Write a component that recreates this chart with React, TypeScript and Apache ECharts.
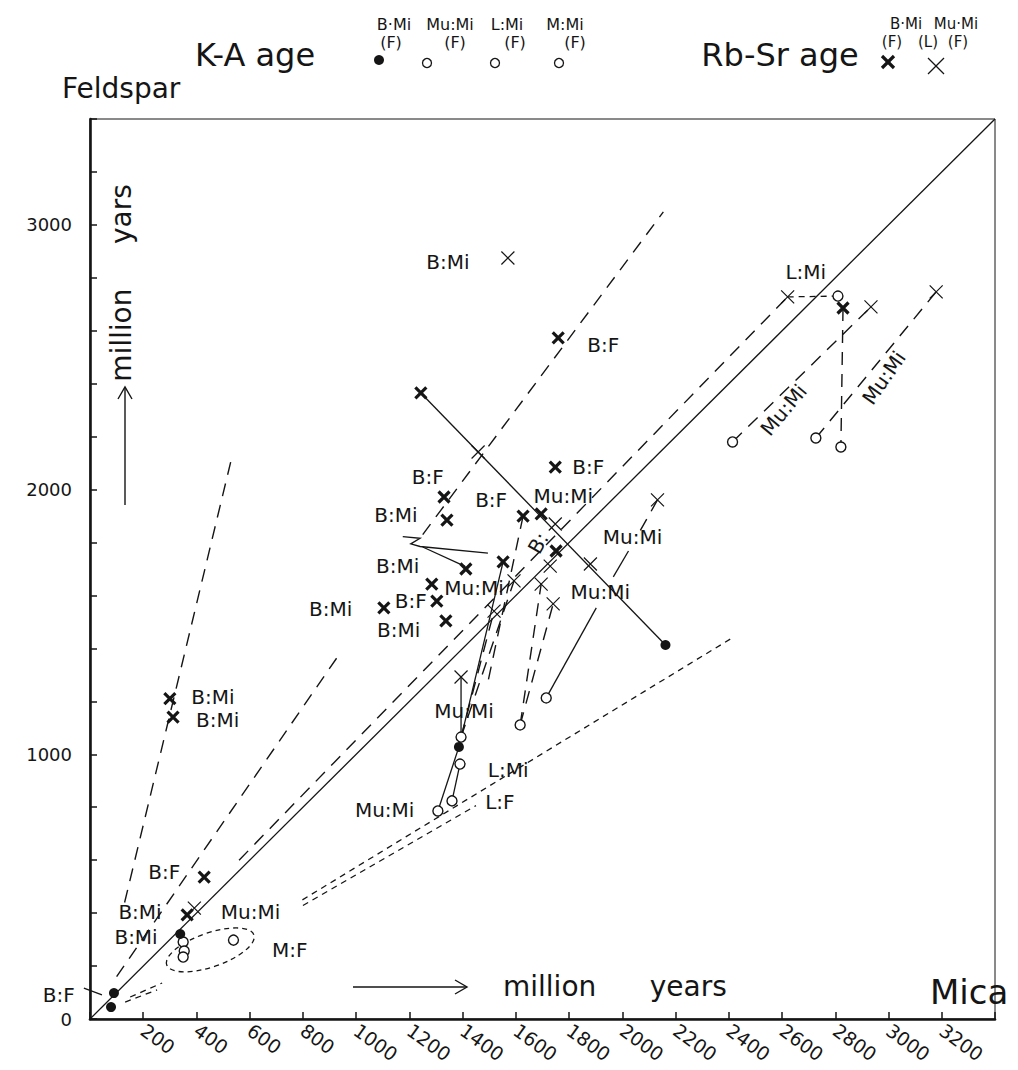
import React, { useEffect, useRef } from "react";
import * as echarts from "echarts";

const FONT = "'DejaVu Sans', 'Liberation Sans', sans-serif";
const INK = "#151515";

// Axis scale (million years, both axes)
const AXIS_MAX = 3400;
const TICK_STEP = 200;

// K-A ages, biotite (filled circles)
const kaBiotite: number[][] = [
  [79, 45], [90, 98], [339, 321], [1386, 1028], [2162, 1413],
];

// K-A ages, muscovite / lepidolite / microcline (open circles)
const kaOther: number[][] = [
  [350, 291], [354, 257], [350, 234], [539, 298],
  [1394, 1065], [1390, 963], [1360, 824], [1307, 786],
  [1616, 1111], [1714, 1213],
  [2810, 2731], [2821, 2161], [2414, 2180], [2727, 2195],
];

// Rb-Sr ages, biotite (bold crosses)
const rbBiotite: number[][] = [
  [1759, 2573], [1243, 2365], [1748, 2085], [1330, 1972], [1341, 1885],
  [1627, 1900], [1695, 1908], [1751, 1768], [1552, 1727], [1412, 1700],
  [1284, 1643], [1303, 1579], [1104, 1553], [1337, 1504],
  [300, 1210], [312, 1140], [429, 536], [365, 393], [2829, 2686],
];

// Rb-Sr ages, muscovite / lepidolite (thin crosses)
const rbMuscovite: number[][] = [
  [1570, 2875], [1458, 2142], [1748, 1870], [1880, 1719], [2132, 1961],
  [1729, 1711], [1695, 1643], [1740, 1568], [1593, 1655], [1518, 1541],
  [1394, 1292], [392, 419], [2621, 2728], [2934, 2690], [3179, 2747],
];

// Connecting lines
const solidPaths: number[][][] = [
  [[0, 0], [3400, 3400]],
  [[1243, 2365], [2162, 1413]],
  [[1307, 786], [1386, 1028]],
  [[1360, 824], [1390, 963]],
  [[1386, 1028], [1552, 1727]],
  [[1394, 1065], [1394, 1292]],
  [[1714, 1213], [1902, 1553]],
  [[2023, 1768], [1966, 1670]],
  [[1175, 1822], [1240, 1816], [1205, 1795], [1240, 1785], [1495, 1760]],
  [[1250, 1783], [1409, 1710]],
  [[-23, 117], [45, 91]],
];

const dashedPaths: number[][][] = [
  [[130, 440], [535, 2131]],
  [[100, 160], [945, 1390]],
  [[1250, 1830], [2154, 3049]],
  [[560, 600], [2621, 2728]],
  [[1627, 1900], [1495, 1273]],
  [[1394, 1065], [1518, 1541]],
  [[1394, 1065], [1593, 1655]],
  [[1616, 1111], [1740, 1568]],
  [[1616, 1111], [1695, 1643]],
  [[2132, 1961], [2060, 1832]],
  [[2829, 2686], [2821, 2161]],
  [[2414, 2180], [2934, 2690]],
  [[2727, 2195], [3179, 2747]],
];

const dottedPaths: number[][][] = [
  [[151, 83], [271, 136]],
  [[132, 64], [252, 110]],
  [[798, 450], [2418, 1443]],
  [[800, 429], [1450, 806]],
  [[2621, 2728], [2810, 2731]],
];

// M:F envelope: centre x, centre y, half-width, half-height, tilt (deg)
const mfEllipse: number[][] = [[452, 261, 173, 64, 19]];

// Point labels: text, x, y, rotation (deg)
const pointLabels: [string, number, number, number][] = [
  ["B:Mi", 1345, 2860, 0],
  ["B:F", 1928, 2546, 0],
  ["B:F", 1872, 2085, 0],
  ["B:F", 1269, 2048, 0],
  ["B:Mi", 1149, 1904, 0],
  ["B:F", 1507, 1961, 0],
  ["Mu:Mi", 1778, 1976, 0],
  ["B:", 1684, 1798, 60],
  ["B:Mi", 1156, 1711, 0],
  ["Mu:Mi", 1443, 1628, 0],
  ["B:F", 1205, 1579, 0],
  ["B:Mi", 904, 1549, 0],
  ["B:Mi", 1160, 1470, 0],
  ["Mu:Mi", 2038, 1821, 0],
  ["Mu:Mi", 1917, 1613, 0],
  ["Mu:Mi", 1405, 1164, 0],
  ["L:Mi", 1571, 941, 0],
  ["L:F", 1540, 820, 0],
  ["Mu:Mi", 1107, 790, 0],
  ["B:Mi", 462, 1218, 0],
  ["B:Mi", 480, 1128, 0],
  ["B:F", 279, 555, 0],
  ["B:Mi", 188, 405, 0],
  ["Mu:Mi", 603, 405, 0],
  ["B:Mi", 173, 310, 0],
  ["M:F", 750, 261, 0],
  ["B:F", -117, 91, 0],
  ["L:Mi", 2689, 2822, 0],
  ["Mu:Mi", 2606, 2301, 50],
  ["Mu:Mi", 2983, 2422, 55],
];

const CROSS = "path://M0,0L10,10M10,0L0,10";

function pathSeries(paths: number[][][], dash: number[] | "solid", width: number) {
  return {
    type: "lines",
    coordinateSystem: "cartesian2d",
    polyline: true,
    clip: false,
    silent: true,
    lineStyle: { color: INK, width, type: dash, opacity: 1 },
    data: paths.map((coords) => ({ coords })),
  };
}

function legendCross(cx: number, cy: number, r: number, w: number) {
  return [
    { type: "line", shape: { x1: cx - r, y1: cy - r, x2: cx + r, y2: cy + r }, style: { stroke: INK, lineWidth: w } },
    { type: "line", shape: { x1: cx + r, y1: cy - r, x2: cx - r, y2: cy + r }, style: { stroke: INK, lineWidth: w } },
  ];
}

function txt(text: string, x: number, y: number, size: number, align = "center", rotation = 0) {
  return {
    type: "text",
    x,
    y,
    rotation,
    style: { text, fontSize: size, fontFamily: FONT, fill: INK, align, verticalAlign: "middle" },
  };
}

const openMark = (cx: number, cy: number) => ({
  type: "circle",
  shape: { cx, cy, r: 4.5 },
  style: { fill: "#fff", stroke: INK, lineWidth: 1.3 },
});

const graphic: any[] = [
  txt("Feldspar", 62, 88, 28, "left"),
  txt("Mica", 930, 992, 34, "left"),
  txt("million      years", 503, 986, 28, "left"),
  { type: "line", shape: { x1: 353, y1: 987, x2: 467, y2: 987 }, style: { stroke: INK, lineWidth: 1.4 } },
  { type: "polyline", shape: { points: [[455, 980], [467, 987], [455, 994]] }, style: { stroke: INK, lineWidth: 1.4, fill: "none" } },
  txt("million     yars", 121, 283, 28, "center", Math.PI / 2),
  { type: "line", shape: { x1: 125, y1: 505, x2: 125, y2: 387 }, style: { stroke: INK, lineWidth: 1.4 } },
  { type: "polyline", shape: { points: [[118, 399], [125, 387], [132, 399]] }, style: { stroke: INK, lineWidth: 1.4, fill: "none" } },
  // K-A legend
  txt("K-A age", 255, 55, 32),
  txt("B·Mi", 394, 24, 16), txt("(F)", 391, 42, 16),
  { type: "circle", shape: { cx: 379, cy: 60, r: 5 }, style: { fill: INK } },
  txt("Mu:Mi", 450, 24, 16), txt("(F)", 455, 42, 16), openMark(427, 63),
  txt("L:Mi", 507, 24, 16), txt("(F)", 515, 42, 16), openMark(495, 63),
  txt("M:Mi", 565, 24, 16), txt("(F)", 575, 42, 16), openMark(559, 63),
  // Rb-Sr legend
  txt("Rb-Sr age", 780, 55, 32),
  txt("B·Mi", 906, 24, 15), txt("Mu·Mi", 956, 24, 15),
  txt("(F)", 892, 42, 15), txt("(L)", 928, 42, 15), txt("(F)", 958, 42, 15),
  ...legendCross(888, 62, 6, 3.2),
  ...legendCross(936, 66, 8, 1.3),
];

const option: any = {
  animation: false,
  backgroundColor: "#fff",
  textStyle: { fontFamily: FONT, color: INK },
  grid: { left: 90, top: 119, width: 905, height: 900, show: true, borderColor: INK, borderWidth: 1, backgroundColor: "transparent" },
  xAxis: {
    type: "value",
    min: 0,
    max: AXIS_MAX,
    interval: TICK_STEP,
    axisLine: { onZero: false, lineStyle: { color: INK, width: 2.6 } },
    axisTick: { inside: true, length: 7, lineStyle: { color: INK, width: 1.5 } },
    splitLine: { show: false },
    axisLabel: {
      rotate: -36,
      margin: 9,
      fontSize: 19,
      fontFamily: FONT,
      color: INK,
      formatter: (v: number) => (v === 0 || v === AXIS_MAX ? "" : String(v)),
    },
  },
  yAxis: {
    type: "value",
    min: 0,
    max: AXIS_MAX,
    interval: TICK_STEP,
    axisLine: { onZero: false, lineStyle: { color: INK, width: 2.6 } },
    axisTick: { inside: true, length: 7, lineStyle: { color: INK, width: 1.5 } },
    splitLine: { show: false },
    axisLabel: {
      margin: 18,
      fontSize: 18,
      fontFamily: FONT,
      color: INK,
      formatter: (v: number) => (v % 1000 === 0 ? String(v) : ""),
    },
  },
  graphic,
  series: [
    pathSeries(solidPaths, "solid", 1.3),
    pathSeries(dashedPaths, [13, 9], 1.4),
    pathSeries(dottedPaths, [6, 5], 1.3),
    {
      type: "custom",
      coordinateSystem: "cartesian2d",
      clip: false,
      silent: true,
      data: mfEllipse,
      renderItem: (params: any, api: any) => {
        const c = api.coord([api.value(0), api.value(1)]);
        const s = api.size([api.value(2), api.value(3)]);
        return {
          type: "ellipse",
          x: c[0],
          y: c[1],
          rotation: (api.value(4) * Math.PI) / 180,
          shape: { cx: 0, cy: 0, rx: s[0], ry: s[1] },
          style: { fill: "none", stroke: INK, lineWidth: 1.3, lineDash: [5, 4] },
        };
      },
    },
    {
      type: "scatter",
      data: kaOther,
      symbol: "circle",
      symbolSize: 10,
      itemStyle: { color: "#fff", borderColor: INK, borderWidth: 1.4, opacity: 1 },
      z: 5,
    },
    {
      type: "scatter",
      data: kaBiotite,
      symbol: "circle",
      symbolSize: 10,
      itemStyle: { color: INK, opacity: 1 },
      z: 6,
    },
    {
      type: "scatter",
      data: rbBiotite,
      symbol: CROSS,
      symbolSize: 11,
      itemStyle: { color: "transparent", borderColor: INK, borderWidth: 3.2, opacity: 1 },
      z: 6,
    },
    {
      type: "scatter",
      data: rbMuscovite,
      symbol: CROSS,
      symbolSize: 13,
      itemStyle: { color: "transparent", borderColor: INK, borderWidth: 1.2, opacity: 1 },
      z: 6,
    },
    {
      type: "custom",
      coordinateSystem: "cartesian2d",
      clip: false,
      silent: true,
      z: 7,
      data: pointLabels.map((l) => [l[1], l[2]]),
      renderItem: (params: any, api: any) => {
        const c = api.coord([api.value(0), api.value(1)]);
        const lab = pointLabels[params.dataIndex];
        return {
          type: "text",
          x: c[0],
          y: c[1],
          rotation: (lab[3] * Math.PI) / 180,
          style: { text: lab[0], fontSize: 20, fontFamily: FONT, fill: INK, align: "center", verticalAlign: "middle" },
        };
      },
    },
  ],
};

export default function App() {
  const ref = useRef<HTMLDivElement>(null);
  useEffect(() => {
    const chart = echarts.init(ref.current!, null, { renderer: "svg" });
    chart.setOption(option);
    return () => chart.dispose();
  }, []);
  return (
    <div
      ref={ref}
      style={{ position: "fixed", left: 0, top: 0, width: 1018, height: 1070, background: "#fff" }}
    />
  );
}
